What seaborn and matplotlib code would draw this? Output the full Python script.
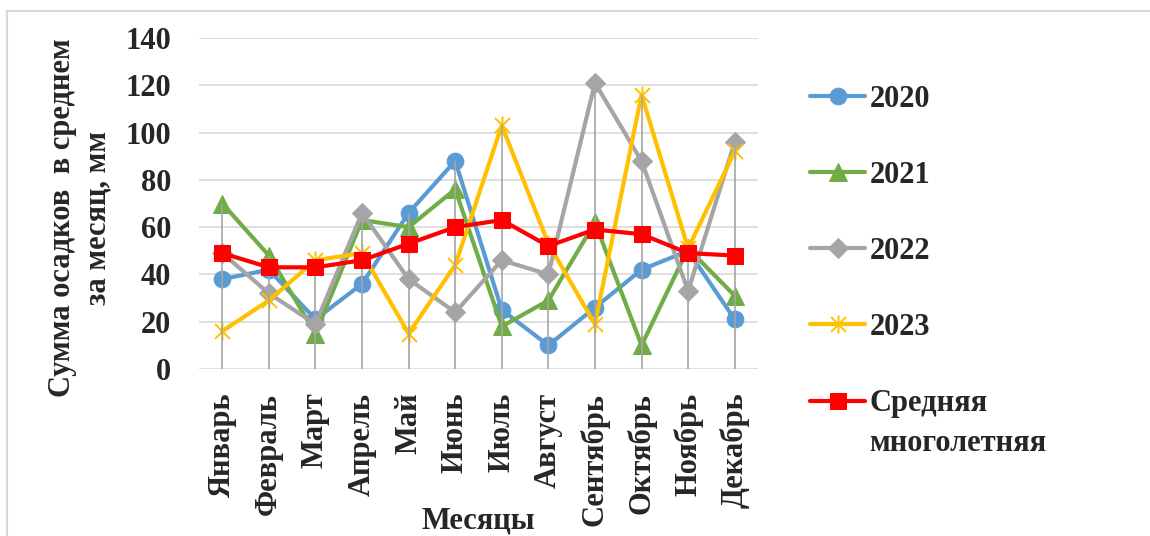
import numpy as np
import pandas as pd
import matplotlib
matplotlib.use("Agg")
import matplotlib.pyplot as plt
from matplotlib.path import Path
from matplotlib.patches import Rectangle
import seaborn as sns

# precipitation by month, mm
months = ['Январь', 'Февраль', 'Март', 'Апрель', 'Май', 'Июнь',
          'Июль', 'Август', 'Сентябрь', 'Октябрь', 'Ноябрь', 'Декабрь']
y2020 = [38, 42, 21, 36, 66, 88, 25, 10, 26, 42, 50, 21]
y2021 = [70, 48, 15, 63, 60, 76, 18, 29, 62, 10, 51, 31]
y2022 = [49, 32, 19, 66, 38, 24, 46, 40, 121, 88, 33, 96]
y2023 = [16, 29, 46, 49, 15, 44, 103, 53, 19, 116, 51, 92]
avg = [49, 43, 43, 46, 53, 60, 63, 52, 59, 57, 49, 48]

sns.set_theme(style="white")
plt.rcParams['font.family'] = ['Liberation Serif', 'DejaVu Serif']
plt.rcParams['font.weight'] = 'bold'

# excel-like star marker: x with a vertical bar
star = Path([(-1, -1), (1, 1), (-1, 1), (1, -1), (0, -1.2), (0, 1.2)],
            [Path.MOVETO, Path.LINETO, Path.MOVETO, Path.LINETO, Path.MOVETO, Path.LINETO])

fig = plt.figure(figsize=(11.5, 5.36), dpi=100)
ax = fig.add_axes([199 / 1150, 1 - 369 / 536, 559 / 1150, 331 / 536])

series = [
    ('2020', y2020, '#5b9bd5', 'o', 12, 2),
    ('2021', y2021, '#70ad47', '^', 13, 2),
    ('2022', y2022, '#a5a5a5', 'D', 10, 2),
    ('2023', y2023, '#ffc000', star, 13, 2),
    ('Средняя', avg, '#ff0000', 's', 12, 3),
]
for name, vals, col, mk, ms, z in series:
    if mk is star:
        sns.lineplot(x=months, y=vals, ax=ax, color=col, linewidth=3, marker=mk,
                     markersize=ms, markeredgecolor=col, markerfacecolor='none',
                     markeredgewidth=1.4, label=name, zorder=z, sort=False)
    else:
        sns.lineplot(x=months, y=vals, ax=ax, color=col, linewidth=3, marker=mk,
                     markersize=ms, markeredgecolor=col, markerfacecolor=col,
                     label=name, zorder=z, sort=False)

# drop lines from the highest point to the axis
tops = np.max([y2020, y2021, y2022, y2023, avg], axis=0)
ax.vlines(np.arange(len(months)), 0, tops, color='#a5a5a5', linewidth=1.2, zorder=2.5)

ax.set_xlim(-0.5, 11.5)
ax.set_ylim(0, 140)
ax.set_yticks(range(0, 141, 20))
ax.yaxis.grid(True, color='#d9d9d9', linewidth=1.2)
ax.xaxis.grid(False)
ax.set_axisbelow(True)
for s in ax.spines.values():
    s.set_visible(False)
ax.tick_params(axis='both', length=0, labelsize=22)
ax.tick_params(axis='y', pad=20)
ax.tick_params(axis='x', pad=17)
ax.set_xticks(range(len(months)))
ax.set_xticklabels(months, rotation=90, fontweight='bold')
for t in ax.get_yticklabels():
    t.set_fontweight('bold')

ax.set_xlabel('Месяцы', fontsize=22, fontweight='bold', va='center')
ax.xaxis.set_label_coords(0.5, -0.46)
ax.set_ylabel('Сумма осадков  в среднем\nза месяц, мм', fontsize=22,
              fontweight='bold', linespacing=1.3)
ax.yaxis.set_label_coords(-0.154, 0.456)

leg = ax.legend(loc='upper left', bbox_to_anchor=(810 / 1150, 1 - 85 / 536),
                bbox_transform=fig.transFigure, frameon=False, fontsize=22,
                handlelength=1.8, handletextpad=0.15, labelspacing=1.54,
                borderaxespad=0, borderpad=0)
for t in leg.get_texts():
    t.set_fontweight('bold')

# second line of the last legend label, handle stays on the first line like in Excel
fig.canvas.draw()
last = leg.get_texts()[-1].get_window_extent()
fig.text(last.x0 / 1150, (last.y0 + last.y1) / 2 / 536 - 40 / 536, 'многолетняя',
         fontsize=22, fontweight='bold', va='center', ha='left')

fig.patches.append(Rectangle((7 / 1150, -0.1), 1.2, 1 - 11 / 536 + 0.1,
                             transform=fig.transFigure, fill=False,
                             edgecolor='#d9d9d9', linewidth=1.5))

fig.savefig('out.png', dpi=100)
